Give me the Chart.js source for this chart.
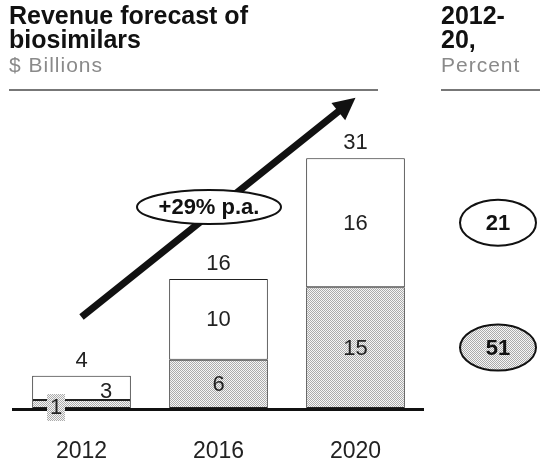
<!DOCTYPE html>
<html><head><meta charset="utf-8">
<script src="https://cdn.jsdelivr.net/npm/chart.js@4.4.0/dist/chart.umd.min.js"></script>
<style>html,body{margin:0;padding:0;background:#fff;}#wrap{width:540px;height:466px;position:relative;}</style>
</head><body><div id="wrap"><canvas id="c" width="540" height="466"></canvas></div>
<script>
// ---- data ----
const categories = ['2012', '2016', '2020'];
const grayValues = [1, 6, 15];     // lower (shaded) segment, $B
const whiteValues = [3, 10, 16];   // upper (white) segment, $B
const totals = [4, 16, 31];        // bar totals, $B
const cagrWhite = 21;              // 2012-20 CAGR of white segment, %
const cagrGray = 51;               // 2012-20 CAGR of shaded segment, %
const growthLabel = '+29% p.a.';
const titleLines = ['Revenue forecast of', 'biosimilars'];
const unitLabel = '$ Billions';
const rightTitleLines = ['2012-', '20,'];
const rightUnit = 'Percent';

// ---- styles ----
const FONT = '"Liberation Sans", Arial, Helvetica, sans-serif';
function makePattern() {
  const p = document.createElement('canvas');
  p.width = 2; p.height = 2;
  const g = p.getContext('2d');
  g.fillStyle = '#f6f6f6'; g.fillRect(0, 0, 2, 2);
  g.fillStyle = '#ababab'; g.fillRect(0, 0, 1, 1); g.fillRect(1, 1, 1, 1);
  return g.createPattern(p, 'repeat');
}
const grayPattern = makePattern();

const overlay = {
  id: 'overlay',
  afterDatasetsDraw(chart) {
    const ctx = chart.ctx;
    const xs = chart.scales.x, ys = chart.scales.y;
    const area = chart.chartArea;
    const base = ys.getPixelForValue(0);
    ctx.save();

    // axis line
    ctx.strokeStyle = '#111'; ctx.lineWidth = 3;
    ctx.beginPath(); ctx.moveTo(area.left - 1, base + 1.5); ctx.lineTo(area.right, base + 1.5); ctx.stroke();

    // category labels
    ctx.fillStyle = '#222'; ctx.font = '23px ' + FONT;
    ctx.textAlign = 'center'; ctx.textBaseline = 'alphabetic';
    categories.forEach((c, i) => ctx.fillText(c, xs.getPixelForValue(i), 458));

    const m0 = chart.getDatasetMeta(0).data, m1 = chart.getDatasetMeta(1).data;
    ctx.font = '22px ' + FONT; ctx.textBaseline = 'middle';
    categories.forEach((c, i) => {
      const g = m0[i], w = m1[i];
      const gh = g.base - g.y;
      if (gh >= 20) {
        ctx.fillStyle = '#222';
        ctx.fillText(String(grayValues[i]), g.x, (g.y + g.base) / 2 + 1);
      } else {
        const bx = g.x - 25.5, by = g.base - 1;
        ctx.fillStyle = grayPattern; ctx.fillRect(bx - 9, by - 13, 18, 27);
        ctx.fillStyle = '#222';
        ctx.fillText(String(grayValues[i]), bx, by + 1);
      }
      const wh = w.base - w.y;
      ctx.fillStyle = '#222';
      if (wh >= 30) ctx.fillText(String(whiteValues[i]), w.x, (w.y + w.base) / 2 + 1);
      else ctx.fillText(String(whiteValues[i]), w.x + 24.5, (w.y + w.base) / 2 + 4);
      ctx.textBaseline = 'alphabetic';
      ctx.fillText(String(totals[i]), w.x, w.y - 9);
      ctx.textBaseline = 'middle';
    });

    // growth arrow
    const x1 = xs.getPixelForValue(0), y1 = ys.getPixelForValue(11.3);
    const x2 = xs.getPixelForValue(2), y2 = ys.getPixelForValue(38.5);
    const ang = Math.atan2(y2 - y1, x2 - x1);
    const hl = 22, hw = 11;
    const bxp = x2 - hl * Math.cos(ang), byp = y2 - hl * Math.sin(ang);
    ctx.strokeStyle = '#111'; ctx.lineWidth = 7; ctx.lineCap = 'butt';
    ctx.beginPath(); ctx.moveTo(x1, y1); ctx.lineTo(bxp + 2 * Math.cos(ang), byp + 2 * Math.sin(ang)); ctx.stroke();
    ctx.fillStyle = '#111';
    ctx.beginPath();
    ctx.moveTo(x2, y2);
    ctx.lineTo(bxp + hw * Math.sin(ang), byp - hw * Math.cos(ang));
    ctx.lineTo(bxp - hw * Math.sin(ang), byp + hw * Math.cos(ang));
    ctx.closePath(); ctx.fill();

    // growth ellipse
    function ellipse(cx, cy, rx, ry, fill, text, font) {
      ctx.beginPath(); ctx.ellipse(cx, cy, rx, ry, 0, 0, Math.PI * 2);
      ctx.fillStyle = fill; ctx.fill();
      ctx.lineWidth = 2; ctx.strokeStyle = '#111'; ctx.stroke();
      ctx.fillStyle = '#111'; ctx.font = font; ctx.textAlign = 'center'; ctx.textBaseline = 'middle';
      ctx.fillText(text, cx, cy + 1);
    }
    ellipse(209, 207, 72, 17, '#fff', growthLabel, 'bold 22px ' + FONT);

    // CAGR ellipses aligned with 2020 segments
    const lw = m1[2], lg = m0[2];
    ellipse(498, (lw.y + lw.base) / 2, 38, 23, '#fff', String(cagrWhite), 'bold 22px ' + FONT);
    ellipse(498, (lg.y + lg.base) / 2, 38, 23, grayPattern, String(cagrGray), 'bold 22px ' + FONT);

    // headers
    ctx.textAlign = 'left'; ctx.textBaseline = 'alphabetic';
    ctx.fillStyle = '#111'; ctx.font = 'bold 25px ' + FONT;
    titleLines.forEach((t, k) => ctx.fillText(t, 9, 24 + k * 24));
    rightTitleLines.forEach((t, k) => ctx.fillText(t, 441, 24 + k * 24));
    ctx.fillStyle = '#8a8a8a'; ctx.font = '21px ' + FONT;
    ctx.letterSpacing = '1px';
    ctx.fillText(unitLabel, 9, 72);
    ctx.fillText(rightUnit, 441, 72);
    ctx.letterSpacing = '0px';
    ctx.strokeStyle = '#777'; ctx.lineWidth = 2;
    ctx.beginPath(); ctx.moveTo(9, 90); ctx.lineTo(378, 90); ctx.stroke();
    ctx.beginPath(); ctx.moveTo(441, 90); ctx.lineTo(540, 90); ctx.stroke();
    ctx.restore();
  }
};

new Chart(document.getElementById('c'), {
  type: 'bar',
  data: {
    labels: categories,
    datasets: [
      { label: 'shaded', data: grayValues, backgroundColor: grayPattern, borderColor: '#222', borderWidth: 1, borderSkipped: false },
      { label: 'white', data: whiteValues, backgroundColor: '#fff', borderColor: '#222', borderWidth: 1, borderSkipped: false }
    ]
  },
  options: {
    responsive: false, animation: false, devicePixelRatio: 1,
    layout: { padding: { left: 13, right: 116, top: 126, bottom: 58 } },
    datasets: { bar: { barPercentage: 0.72, categoryPercentage: 1 } },
    scales: {
      x: { stacked: true, display: false },
      y: { stacked: true, display: false, min: 0, max: 35 }
    },
    plugins: { legend: { display: false }, tooltip: { enabled: false }, title: { display: false } }
  },
  plugins: [overlay]
});
</script></body></html>
